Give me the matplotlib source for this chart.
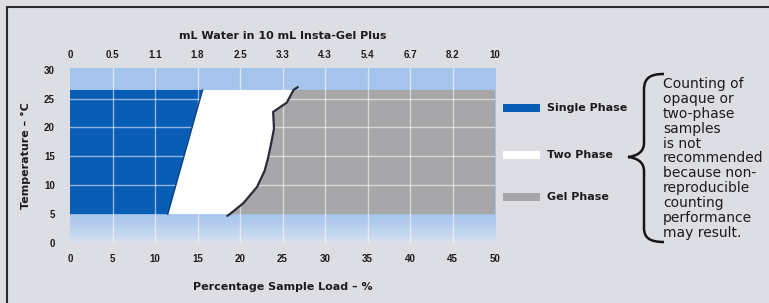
import numpy as np
import matplotlib
matplotlib.use('Agg')
import matplotlib.pyplot as plt
from matplotlib.patches import Rectangle, PathPatch
from matplotlib.path import Path
from matplotlib.lines import Line2D
from matplotlib.colors import to_rgb

W, H = 769, 303

# --- data ---
load_ticks = [0, 5, 10, 15, 20, 25, 30, 35, 40, 45, 50]
temp_ticks = [0, 5, 10, 15, 20, 25, 30]
water_labels = ['0', '0.5', '1.1', '1.8', '2.5', '3.3', '4.3', '5.4', '6.7', '8.2', '10']

band_temp = [5, 26.5]            # tested temperature range
single_edge_load = [11.5, 15.6]  # single / two phase boundary
single_edge_temp = [5, 26.5]
gel_edge_load = [18.5, 18.8, 20.4, 22.0, 22.9, 23.3, 23.7, 24.0, 23.9, 25.5, 26.3, 26.8]
gel_edge_temp = [4.7, 5.0, 6.9, 9.7, 12.5, 14.7, 17.5, 19.8, 22.7, 24.3, 26.5, 27.0]

phase_names = ['Single Phase', 'Two Phase', 'Gel Phase']
phase_colors = ['#0a5db5', '#ffffff', '#a7a7aa']

note = ('Counting of\nopaque or\ntwo-phase\nsamples\nis not\nrecommended\n'
        'because non-\nreproducible\ncounting\nperformance\nmay result.')

BG = '#dcdee3'
TXT = '#1c1c1c'
plt.rcParams['font.family'] = ['Liberation Sans', 'DejaVu Sans']
LBL = dict(fontsize=8, fontweight='bold', color=TXT, family=['DejaVu Sans'])


def px(x, y):
    return x / W, 1 - y / H


fig = plt.figure(figsize=(W / 100, H / 100), dpi=100, facecolor=BG)
l, b = px(70, 243)
ax = fig.add_axes([l, b, 425 / W, 175 / H])
ax.set_xlim(0, 50)
ax.set_ylim(0, 30.3)
ax.set_facecolor('none')

# background: light blue, fading out below the tested band
yy = np.linspace(0, 30.3, 200)
top_c = np.array(to_rgb('#a5c4ec'))
low_c = np.array(to_rgb('#dbe3f0'))
frac = np.clip(yy / 5.0, 0, 1)[:, None] ** 0.8
grad = low_c * (1 - frac) + top_c * frac
ax.imshow(grad[:, None, :], extent=[0, 50, 0, 30.3], origin='lower',
          aspect='auto', zorder=0)

lo, hi = band_temp
gl = np.array(gel_edge_load)
gt = np.array(gel_edge_temp)
m = (gt >= lo) & (gt <= hi)

ax.fill([0, single_edge_load[0], single_edge_load[1], 0], [lo, lo, hi, hi],
        color=phase_colors[0], lw=0, zorder=1)
ax.fill(list(single_edge_load) + list(gl[m][::-1]),
        list(single_edge_temp) + list(gt[m][::-1]),
        color=phase_colors[1], lw=0, zorder=1)
ax.fill(list(gl[m]) + [50, 50], list(gt[m]) + [hi, lo],
        color=phase_colors[2], lw=0, zorder=1)

# grid
for x in load_ticks[1:-1]:
    ax.axvline(x, color='white', lw=1, alpha=0.55, zorder=2)
for y in temp_ticks[2:-1]:
    ax.axhline(y, color='white', lw=1, alpha=0.55, zorder=2)

ax.plot(single_edge_load, single_edge_temp, color='#0b3f84', lw=1, zorder=3)
ax.plot(gel_edge_load, gel_edge_temp, color='#2a2d35', lw=1.6, zorder=3,
        solid_capstyle='round')

for s in ax.spines.values():
    s.set_visible(False)
ax.set_xticks(load_ticks)
ax.set_yticks(temp_ticks)
ax.tick_params(length=0, labelsize=7, labelcolor=TXT)
ax.tick_params(axis='x', pad=8)
ax.tick_params(axis='y', pad=11)
for t in ax.get_xticklabels() + ax.get_yticklabels():
    t.set_fontweight('bold')
ax.set_xlabel('Percentage Sample Load – %', labelpad=13, **LBL)
ax.set_ylabel('Temperature – °C', labelpad=9, **LBL)

sec = ax.secondary_xaxis('top')
sec.set_xticks(load_ticks, labels=water_labels)
sec.tick_params(length=0, labelsize=7, labelcolor=TXT, pad=6)
for t in sec.get_xticklabels():
    t.set_fontweight('bold')
sec.spines['top'].set_visible(False)
sec.set_xlabel('mL Water in 10 mL Insta-Gel Plus', labelpad=8, **LBL)

# legend swatches
for name, col, yc in zip(phase_names, phase_colors, [108, 155, 197]):
    x0, y0 = px(503, yc + 4)
    fig.patches.append(Rectangle((x0, y0), 37 / W, 8 / H, transform=fig.transFigure,
                                 facecolor=col, edgecolor='none'))
    fig.text(*px(547, yc), name, va='center', ha='left', **LBL)

# curly brace
pts = [(664, 74), (650, 74), (644, 78), (644, 90),
       (644, 143),
       (644, 152), (637, 156), (628, 157),
       (637, 158), (644, 162), (644, 171),
       (644, 228),
       (644, 238), (650, 242), (664, 242)]
codes = [Path.MOVETO, Path.CURVE4, Path.CURVE4, Path.CURVE4,
         Path.LINETO,
         Path.CURVE4, Path.CURVE4, Path.CURVE4,
         Path.CURVE4, Path.CURVE4, Path.CURVE4,
         Path.LINETO,
         Path.CURVE4, Path.CURVE4, Path.CURVE4]
brace = Path([px(x, y) for x, y in pts], codes)
fig.patches.append(PathPatch(brace, transform=fig.transFigure, fill=False,
                             edgecolor='#151515', lw=1.8))

fig.text(*px(663, 77), note, fontsize=10, color=TXT, va='top', ha='left',
         linespacing=1.08, family=['DejaVu Sans'])

# frame lines (top and left)
fig.lines.append(Line2D([7 / W, 1], [1 - 7 / H, 1 - 7 / H], transform=fig.transFigure,
                        color='#2b2b2b', lw=1.5))
fig.lines.append(Line2D([7 / W, 7 / W], [0, 1 - 7 / H], transform=fig.transFigure,
                        color='#2b2b2b', lw=1.5))

fig.savefig('out.png', dpi=100, facecolor=BG)
